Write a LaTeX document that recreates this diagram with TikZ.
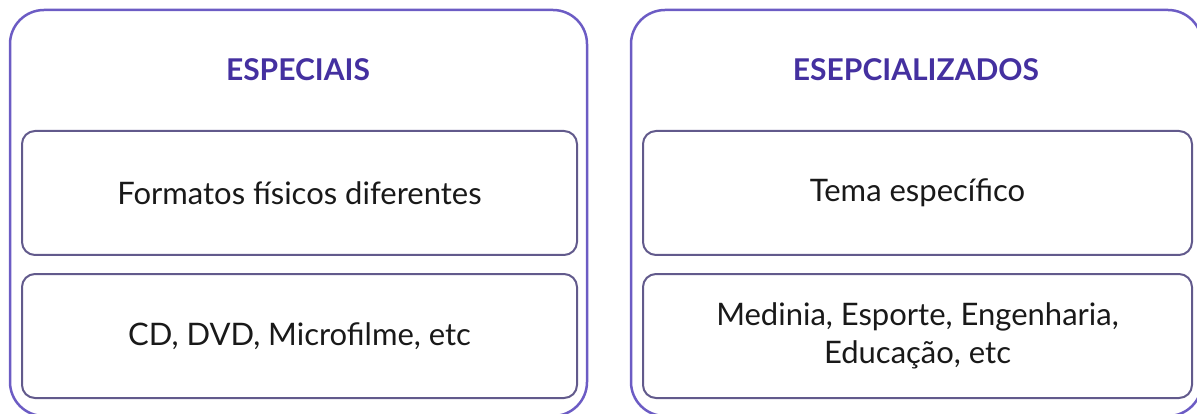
\documentclass[tikz,border=0pt]{standalone}
\usepackage{fontspec}
\setmainfont{Lato}
\usetikzlibrary{positioning}
\definecolor{boxpurple}{RGB}{108,92,196}
\definecolor{titlepurple}{RGB}{68,48,160}
\definecolor{innergray}{RGB}{98,90,140}
\tikzset{
    % Box styles
    outer box/.style={
        draw=boxpurple,
        line width=2.5pt,
        rectangle,
        rounded corners=34pt,
        minimum height=406pt
    },
    inner box/.style={
        draw=innergray,
        line width=2pt,
        rectangle,
        rounded corners=13pt,
        minimum height=124pt,
        align=center,
        text=black!90,
        font=\fontsize{31}{38}\selectfont
    },
    % Text styles
    title text/.style={
        text=titlepurple,
        font=\fontsize{30}{36}\selectfont\bfseries
    }
}

\begin{document}
\begin{tikzpicture}[x=1pt, y=-1pt]
        \clip (0,0) rectangle (1197,414);

        % Left column
        \node[outer box, minimum width=577pt] at (298.5,213) (especiais) {};
        \node[title text] at (298,70) (titleesp) {ESPECIAIS};
        \node[inner box, minimum width=555pt] at (299.5,193) (fisicos) {Formatos físicos diferentes};
        \node[inner box, minimum width=555pt, below=17pt of fisicos] (midias) {CD, DVD, Microfilme, etc};

        % Right column
        \node[outer box, minimum width=571pt] at (916.5,213) (especializados) {};
        \node[title text] at (916,70) (titleespz) {ESEPCIALIZADOS};
        \node[inner box, minimum width=549pt] at (917.5,193) (tema) {Tema específico};
        \node[inner box, minimum width=549pt, below=17pt of tema] (areas) {Medinia, Esporte, Engenharia,\\Educação, etc};
    \end{tikzpicture}
\end{document}
